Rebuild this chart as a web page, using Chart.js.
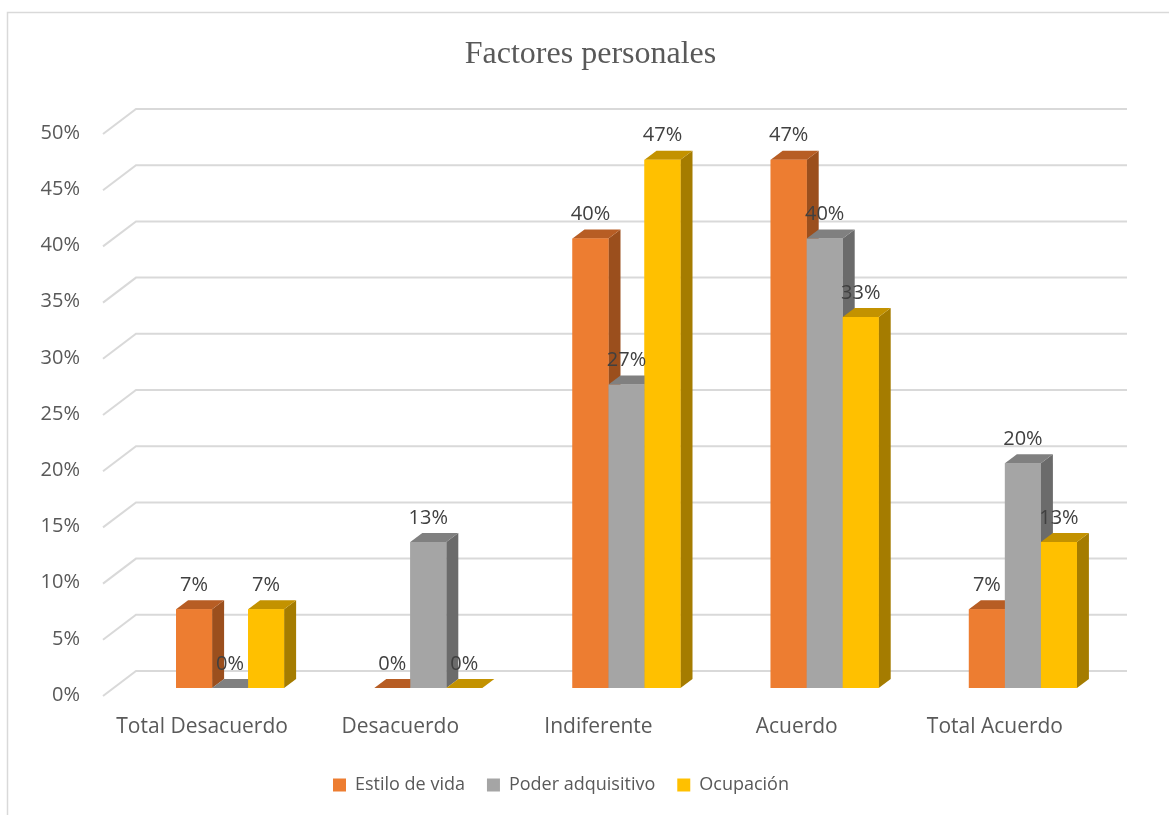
<!DOCTYPE html>
<html>
<head>
<meta charset="utf-8">
<script src="https://cdn.jsdelivr.net/npm/chart.js@4"></script>
<style>
  body { margin: 0; background: #fff; }
  #wrap { width: 1169px; height: 815px; }
</style>
</head>
<body>
<div id="wrap"><canvas id="factores"></canvas></div>
<script>
/* --------------- Data --------------- */

const categories = ["Total Desacuerdo", "Desacuerdo", "Indiferente", "Acuerdo", "Total Acuerdo"];
const estiloDeVida = [7, 0, 40, 47, 7];
const poderAdquisitivo = [0, 13, 27, 40, 20];
const ocupacion = [7, 0, 47, 33, 13];
const yMax = 50;
const yStep = 5;

/* --------------- Colors (front, top, side) --------------- */

const faceColors = [
  ["#ED7D31", "#B75D24", "#9B4F1D"],
  ["#A5A5A5", "#808080", "#6B6B6B"],
  ["#FFC000", "#C39200", "#A57C00"],
];

const textGrey = "#595959";
const depthX = 12;
const depthY = 9;

/* --------------- Plugins --------------- */

// white background + outer frame
const framePlugin = {
  id: "frame",
  beforeDraw(chart) {
    const ctx = chart.ctx;
    ctx.save();
    ctx.fillStyle = "#fff";
    ctx.fillRect(0, 0, chart.width, chart.height);
    ctx.strokeStyle = "#d9d9d9";
    ctx.lineWidth = 1.5;
    ctx.strokeRect(7.5, 12.5, 1400, 1000);
    ctx.restore();
  },
  afterLayout(chart) {
    // title sits a little right of the legend in the reference
    if (chart.titleBlock) {
      chart.titleBlock.left += 29.5;
      chart.titleBlock.right += 29.5;
    }
  },
};

// back wall gridlines with the bent front edge
const wallGrid = {
  id: "wallGrid",
  beforeDatasetsDraw(chart) {
    const { ctx, chartArea: ca, scales } = chart;
    ctx.save();
    ctx.strokeStyle = "#d9d9d9";
    ctx.lineWidth = 2;
    scales.y.ticks.forEach((t) => {
      const yb = scales.y.getPixelForValue(t.value);
      ctx.beginPath();
      ctx.moveTo(ca.left - 28, yb + 8);
      ctx.lineTo(ca.left + 5, yb - 17);
      ctx.lineTo(ca.right + 5, yb - 17);
      ctx.stroke();
    });
    ctx.restore();
  },
};

// side + top faces, fronts redrawn on top, then value labels
const bars3d = {
  id: "bars3d",
  afterDatasetsDraw(chart) {
    const ctx = chart.ctx;
    const metas = chart.data.datasets.map((_, d) => chart.getDatasetMeta(d));
    ctx.save();
    for (let i = 0; i < categories.length; i++) {
      metas.forEach((meta, d) => {
        const bar = meta.data[i];
        const { x, y, base, width } = bar.getProps(["x", "y", "base", "width"], true);
        const l = x - width / 2;
        const r = x + width / 2;
        // side
        ctx.fillStyle = faceColors[d][2];
        ctx.beginPath();
        ctx.moveTo(r, base);
        ctx.lineTo(r + depthX, base - depthY);
        ctx.lineTo(r + depthX, y - depthY);
        ctx.lineTo(r, y);
        ctx.closePath();
        ctx.fill();
        // top
        ctx.fillStyle = faceColors[d][1];
        ctx.beginPath();
        ctx.moveTo(l, y);
        ctx.lineTo(r, y);
        ctx.lineTo(r + depthX, y - depthY);
        ctx.lineTo(l + depthX, y - depthY);
        ctx.closePath();
        ctx.fill();
        // front
        bar.draw(ctx);
      });
    }
    ctx.fillStyle = "#404040";
    ctx.font = "20px 'Open Sans'";
    ctx.textAlign = "center";
    ctx.textBaseline = "middle";
    metas.forEach((meta, d) => {
      meta.data.forEach((bar, i) => {
        const v = chart.data.datasets[d].data[i];
        ctx.fillText(v + "%", bar.x, bar.y - 24);
      });
    });
    ctx.restore();
  },
};

/* --------------- Chart --------------- */

new Chart(document.getElementById("factores"), {
  type: "bar",
  plugins: [framePlugin, wallGrid, bars3d],
  data: {
    labels: categories,
    datasets: [
      { label: "Estilo de vida", data: estiloDeVida, backgroundColor: faceColors[0][0] },
      { label: "Poder adquisitivo", data: poderAdquisitivo, backgroundColor: faceColors[1][0] },
      { label: "Ocupación", data: ocupacion, backgroundColor: faceColors[2][0] },
    ],
  },
  options: {
    responsive: true,
    maintainAspectRatio: false,
    animation: false,
    layout: { padding: { top: 0, left: 0, right: 47, bottom: 11 } },
    datasets: {
      bar: { categoryPercentage: 0.545, barPercentage: 1, borderWidth: 0 },
    },
    scales: {
      x: {
        grid: { display: false, drawTicks: false },
        border: { display: false },
        ticks: {
          color: textGrey,
          font: { family: "Open Sans", size: 21 },
          padding: 26,
          labelOffset: -28,
          maxRotation: 0,
        },
        afterFit: (s) => { s.height = 66; },
      },
      y: {
        min: 0,
        max: yMax,
        grid: { display: false, drawTicks: false },
        border: { display: false },
        ticks: {
          stepSize: yStep,
          color: textGrey,
          font: { family: "Open Sans", size: 20 },
          padding: 51,
          labelOffset: 7,
          callback: (v) => v + "%",
        },
        afterFit: (s) => { s.width = 131; },
      },
    },
    plugins: {
      tooltip: { enabled: false },
      title: {
        display: true,
        text: "Factores personales",
        color: textGrey,
        font: { family: "Liberation Serif", size: 32, weight: "normal" },
        padding: { top: 35, bottom: 52.6 },
      },
      legend: {
        position: "bottom",
        labels: {
          color: textGrey,
          font: { family: "Open Sans", size: 18 },
          boxWidth: 13,
          boxHeight: 13,
          padding: 22,
        },
      },
    },
  },
});
</script>
</body>
</html>
